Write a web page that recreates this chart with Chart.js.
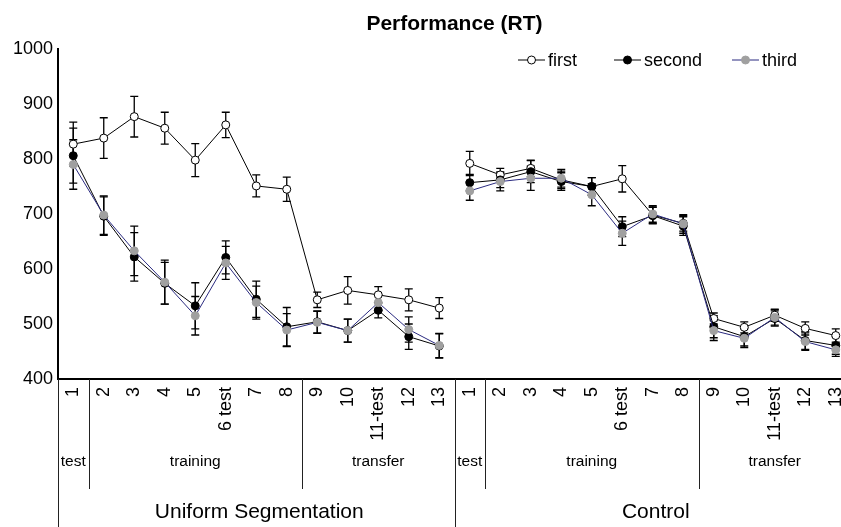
<!DOCTYPE html>
<html>
<head>
<meta charset="utf-8">
<script src="https://cdn.jsdelivr.net/npm/chart.js@4.4.0/dist/chart.umd.min.js"></script>
<style>
  html, body { margin: 0; padding: 0; overflow: hidden; background: #fff; }
  canvas { display: block; }
</style>
</head>
<body>
<canvas id="canvas" width="870" height="527"></canvas>
<script>
var title = 'Performance (RT)';
var trials = ['1', '2', '3', '4', '5', '6 test', '7', '8', '9', '10', '11-test', '12', '13'];
var conditions = ['Uniform Segmentation', 'Control'];
var phases = ['test', 'training', 'transfer'];
var phaseStart = [0, 1, 8];

var first     = [827, 838, 877, 856, 798, 862, 751, 745, 544, 561, 553, 544, 529,
                 792, 771, 783, 762, 750, 764, 698, 683, 510, 494, 516, 492, 479];
var firstErr  = [40, 37, 37, 29, 30, 23, 20, 22, 14, 25, 15, 20, 19,
                 22, 12, 15, 16, 16, 24, 15, 14, 10, 10, 11, 12, 12];
var second    = [806, 696, 622, 574, 533, 621, 545, 495, 504, 488, 525, 477, 460,
                 757, 762, 777, 759, 750, 677, 697, 678, 495, 477, 510, 470, 461];
var secondErr = [50, 35, 44, 38, 42, 30, 33, 35, 20, 21, 14, 23, 22,
                 15, 14, 20, 16, 16, 18, 15, 17, 20, 17, 14, 16, 16];
var third     = [790, 698, 633, 576, 515, 611, 539, 489, 503, 488, 539, 490, 461,
                 742, 759, 765, 765, 735, 665, 700, 682, 488, 474, 512, 468, 453];
var thirdErr  = [45, 35, 45, 40, 35, 30, 30, 30, 20, 21, 14, 23, 22,
                 17, 17, 22, 16, 20, 22, 15, 17, 18, 17, 14, 16, 12];

var labels = trials.concat(trials);
var FONT = "'Liberation Sans', Arial, sans-serif";

// break the line between the two conditions
var gap = function(ctx) {
  return ctx.p0DataIndex === trials.length - 1 ? 'rgba(0,0,0,0)' : undefined;
};

function series(label, data, err, line, fill, border, order) {
  return {
    label: label, data: data, err: err, order: order,
    borderColor: line, borderWidth: 1,
    pointBackgroundColor: fill, pointBorderColor: border, pointBorderWidth: 1,
    pointRadius: 4, pointHoverRadius: 4,
    segment: { borderColor: gap }
  };
}

var errorBars = {
  id: 'errorBars',
  beforeDatasetsDraw: function(chart) {
    var ctx = chart.ctx, y = chart.scales.y;
    ctx.save();
    ctx.strokeStyle = '#000';
    ctx.lineWidth = 1.3;
    chart.data.datasets.forEach(function(ds, i) {
      var meta = chart.getDatasetMeta(i);
      meta.data.forEach(function(pt, j) {
        var top = y.getPixelForValue(ds.data[j] + ds.err[j]);
        var bot = y.getPixelForValue(ds.data[j] - ds.err[j]);
        ctx.beginPath();
        ctx.moveTo(pt.x, top); ctx.lineTo(pt.x, bot);
        ctx.moveTo(pt.x - 4, top); ctx.lineTo(pt.x + 4, top);
        ctx.moveTo(pt.x - 4, bot); ctx.lineTo(pt.x + 4, bot);
        ctx.stroke();
      });
    });
    ctx.restore();
  }
};

var groupAxis = {
  id: 'groupAxis',
  afterDraw: function(chart) {
    var ctx = chart.ctx, x = chart.scales.x, area = chart.chartArea;
    var bottom = area.bottom, H = chart.height;
    var w = x.getPixelForValue(1) - x.getPixelForValue(0);
    var n = trials.length;
    ctx.save();
    ctx.fillStyle = '#000';
    ctx.textAlign = 'center';
    ctx.textBaseline = 'middle';
    ctx.font = 'bold 21px ' + FONT;
    ctx.fillText(title, (area.left + area.right) / 2, 24);

    ctx.strokeStyle = '#222';
    ctx.lineWidth = 1;
    conditions.forEach(function(name, c) {
      var off = c * n;
      var left = x.getPixelForValue(off) - w / 2;
      var right = x.getPixelForValue(off + n - 1) + w / 2;
      ctx.beginPath();
      ctx.moveTo(Math.round(left) + 0.5, bottom);
      ctx.lineTo(Math.round(left) + 0.5, H);
      ctx.stroke();
      phases.forEach(function(p, k) {
        var s = off + phaseStart[k];
        var e = off + (k + 1 < phases.length ? phaseStart[k + 1] - 1 : n - 1);
        var xl = x.getPixelForValue(s) - w / 2;
        var xr = x.getPixelForValue(e) + w / 2;
        if (k > 0) {
          ctx.beginPath();
          ctx.moveTo(Math.round(xl) + 0.5, bottom);
          ctx.lineTo(Math.round(xl) + 0.5, 489);
          ctx.stroke();
        }
        ctx.font = '15.5px ' + FONT;
        ctx.fillText(p, (xl + xr) / 2, 462);
      });
      ctx.font = '21px ' + FONT;
      ctx.fillText(name, (left + right) / 2 + 3, 512);
    });
    ctx.restore();
  }
};

var lineLegend = {
  id: 'lineLegend',
  afterDraw: function(chart) {
    var ctx = chart.ctx;
    var xs = [518, 614, 732], yL = 60, len = 27;
    ctx.save();
    ctx.font = '18px ' + FONT;
    ctx.textBaseline = 'middle';
    ctx.textAlign = 'left';
    chart.data.datasets.forEach(function(ds, i) {
      var x0 = xs[i];
      ctx.strokeStyle = ds.borderColor;
      ctx.lineWidth = 1;
      ctx.beginPath();
      ctx.moveTo(x0, yL); ctx.lineTo(x0 + len, yL);
      ctx.stroke();
      ctx.beginPath();
      ctx.arc(x0 + len / 2, yL, 4, 0, Math.PI * 2);
      ctx.fillStyle = ds.pointBackgroundColor;
      ctx.fill();
      ctx.strokeStyle = ds.pointBorderColor;
      ctx.stroke();
      ctx.fillStyle = '#000';
      ctx.fillText(ds.label, x0 + len + 3, yL + 1);
    });
    ctx.restore();
  }
};

var config = {
  type: 'line',
  data: {
    labels: labels,
    datasets: [
      series('first', first, firstErr, '#000', '#fff', '#000', 3),
      series('second', second, secondErr, '#000', '#000', '#000', 2),
      series('third', third, thirdErr, '#2b2b80', '#a0a0a0', '#a0a0a0', 1)
    ]
  },
  options: {
    responsive: false,
    animation: false,
    events: [],
    layout: { padding: { top: 49, right: 19, left: 0, bottom: 0 } },
    plugins: {
      legend: { display: false },
      tooltip: { enabled: false },
      title: { display: false }
    },
    scales: {
      x: {
        offset: true,
        grid: { display: false, drawTicks: false },
        border: { display: true, color: '#000', width: 2 },
        ticks: {
          autoSkip: false, minRotation: 90, maxRotation: 90, padding: 8,
          color: '#000', font: { family: FONT, size: 18 }
        },
        afterFit: function(scale) { scale.height = 148; }
      },
      y: {
        min: 400, max: 1000,
        grid: { display: false, drawTicks: false },
        border: { display: true, color: '#000', width: 2 },
        ticks: {
          stepSize: 100, padding: 5,
          color: '#000', font: { family: FONT, size: 18 },
          callback: function(v) { return String(v); }
        },
        afterFit: function(scale) { scale.width = 58; }
      }
    }
  },
  plugins: [errorBars, groupAxis, lineLegend]
};

window.onload = function() {
  window.myLine = new Chart(document.getElementById('canvas'), config);
};
</script>
</body>
</html>
